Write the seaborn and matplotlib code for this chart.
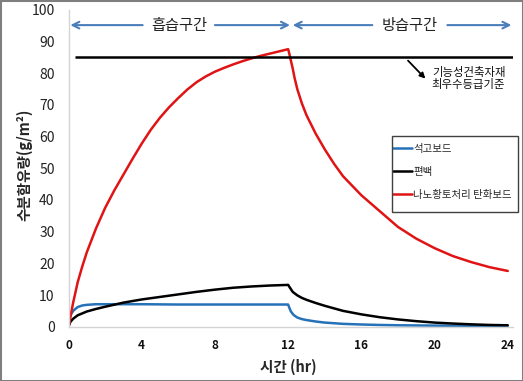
import numpy as np
import pandas as pd
import matplotlib
matplotlib.use("Agg")
import matplotlib.pyplot as plt
from matplotlib.patches import Rectangle
import seaborn as sns

# ---------------- data ----------------
series_names = ["석고보드", "편백", "나노황토처리 탄화보드"]

gypsum_t = [0, 0.1, 0.25, 0.5, 0.75, 1, 1.5, 2, 4, 6, 8, 10, 12,
            12.05, 12.15, 12.3, 12.5, 12.75, 13, 13.5, 14, 15, 16, 17, 18,
            20, 22, 24]
gypsum_v = [0, 3.5, 5.0, 6.2, 6.7, 6.9, 7.1, 7.1, 7.1, 7.0, 7.0, 7.0, 7.0,
            6.2, 4.8, 3.7, 2.9, 2.4, 2.1, 1.65, 1.3, 0.9, 0.7, 0.55, 0.45,
            0.35, 0.3, 0.3]

cypress_t = [0, 0.1, 0.25, 0.5, 1, 1.5, 2, 3, 4, 5, 6, 7, 8, 9, 10, 11, 12,
             12.1, 12.25, 12.5, 12.75, 13, 13.5, 14, 15, 16, 17, 18, 19, 20,
             21, 22, 23, 24]
cypress_v = [0, 1.5, 2.5, 3.6, 4.8, 5.6, 6.3, 7.6, 8.6, 9.4, 10.2, 11.0, 11.7,
             12.3, 12.7, 13.0, 13.2,
             12.3, 11.0, 9.9, 9.1, 8.5, 7.5, 6.6, 5.0, 3.9, 3.0, 2.3, 1.75,
             1.3, 1.0, 0.75, 0.55, 0.45]

nano_t = [0, 0.25, 0.5, 0.75, 1, 1.5, 2, 2.5, 3, 3.5, 4, 4.5, 5, 5.5, 6, 6.5,
          7, 7.5, 8, 8.5, 9, 9.5, 10, 10.5, 11, 11.5, 12,
          12.05, 12.15, 12.25, 12.35, 12.5, 12.75, 13, 13.5, 14, 14.5, 15, 16,
          17, 18, 19, 20, 21, 22, 23, 24]
nano_v = [0, 7.5, 14, 19, 23.5, 31, 37.5, 43, 48, 53, 57.8, 62.2, 66.0, 69.3,
          72.2, 74.9, 77.2, 79.0, 80.5, 81.7, 82.8, 83.8, 84.7, 85.5, 86.2,
          86.9, 87.6,
          86.5, 84.0, 81.5, 78.6, 75.0, 70.5, 66.8, 61.0, 56.0, 51.5, 47.5,
          41.5, 36.5, 31.5, 27.8, 24.8, 22.3, 20.4, 18.8, 17.6]

ref_level = 85
ref_span = [0.35, 24.3]
ref_label = "기능성건축자재\n최우수등급기준"

phase_labels = ["흡습구간", "방습구간"]
phase_centers = [6.05, 18.65]

x_ticks = [0, 4, 8, 12, 16, 20, 24]
y_ticks = list(range(0, 101, 10))

colors = {"석고보드": "#2672B8", "편백": "#000000",
          "나노황토처리 탄화보드": "#E01414"}

# ---------------- long-form table ----------------
df = pd.concat([
    pd.DataFrame({"t": gypsum_t, "v": gypsum_v, "series": series_names[0]}),
    pd.DataFrame({"t": cypress_t, "v": cypress_v, "series": series_names[1]}),
    pd.DataFrame({"t": nano_t, "v": nano_v, "series": series_names[2]}),
], ignore_index=True)

# ---------------- style ----------------
sns.set_theme(style="white")
plt.rcParams["font.family"] = ["Noto Sans CJK KR", "DejaVu Sans"]
plt.rcParams["axes.unicode_minus"] = False

fig = plt.figure(figsize=(5.23, 3.81), dpi=100)
ax = fig.add_axes([0.131, 0.1425, 0.85, 0.8315])

sns.lineplot(data=df, x="t", y="v", hue="series", hue_order=series_names,
             palette=colors, estimator=None, sort=False, linewidth=1.8,
             ax=ax)

# reference line
ax.hlines(ref_level, ref_span[0], ref_span[1], color="black", linewidth=1.8)

ax.set_xlim(0, 24.29)
ax.set_ylim(0, 100)
ax.set_xticks(x_ticks)
ax.set_yticks(y_ticks)
ax.set_xticklabels([str(v) for v in x_ticks], fontsize=8.5, fontweight="bold")
ax.set_yticklabels([str(v) for v in y_ticks], fontsize=10)
ax.tick_params(axis="x", length=0, pad=9, colors="#111111")
ax.tick_params(axis="y", length=0, pad=10, colors="#222222")

for s in ["top", "right"]:
    ax.spines[s].set_visible(False)
for s in ["left", "bottom"]:
    ax.spines[s].set_color("#D4D4D4")
    ax.spines[s].set_linewidth(1.0)

ax.set_xlabel("시간 (hr)", fontsize=10.5, fontweight="bold")
ax.set_ylabel("수분함유량(g/m²)", fontsize=10.5, fontweight="bold")
ax.xaxis.set_label_coords(0.494, -0.100)
ax.yaxis.set_label_coords(-0.082, 0.51)

# phase annotations
arrow_color = "#4A7EBB"
aprops = dict(arrowstyle="->", color=arrow_color, lw=1.5,
              shrinkA=0, shrinkB=0, mutation_scale=12)
y_ph = 95.2
ax.text(phase_centers[0], y_ph, phase_labels[0], ha="center", va="center",
        fontsize=11, color="#222222")
ax.text(phase_centers[1], y_ph, phase_labels[1], ha="center", va="center",
        fontsize=11, color="#222222")
ax.annotate("", xy=(0.1, y_ph), xytext=(4.05, y_ph), arrowprops=aprops,
            annotation_clip=False)
ax.annotate("", xy=(12.1, y_ph), xytext=(8.0, y_ph), arrowprops=aprops,
            annotation_clip=False)
ax.annotate("", xy=(12.25, y_ph), xytext=(16.6, y_ph), arrowprops=aprops,
            annotation_clip=False)
ax.annotate("", xy=(24.2, y_ph), xytext=(20.7, y_ph), arrowprops=aprops,
            annotation_clip=False)

# reference annotation
ax.annotate("", xy=(19.5, 78.3), xytext=(18.55, 84.0),
            arrowprops=dict(arrowstyle="-|>", color="black", lw=1.3,
                            shrinkA=0, shrinkB=0, mutation_scale=8))
ax.text(19.85, 78.3, ref_label, ha="left", va="center", fontsize=8.2,
        color="#111111", linespacing=1.05)

# legend (frame drawn separately so the handles sit at the box edge)
handles, labels = ax.get_legend_handles_labels()
leg = ax.legend(handles, labels, loc="upper left",
                bbox_to_anchor=(393 / 523, 1 - 144 / 381),
                bbox_transform=fig.transFigure, fontsize=7.5,
                frameon=False, borderpad=0, handlelength=1.8,
                handletextpad=0.12, labelspacing=1.25, borderaxespad=0)
for lh in leg.get_lines():
    lh.set_linewidth(1.8)
fig.patches.append(Rectangle((392 / 523, 1 - 212 / 381), 126 / 523, 76 / 381,
                             transform=fig.transFigure, fill=False,
                             edgecolor="#404040", linewidth=1.0, zorder=5))

# figure border
fig.patches.append(Rectangle((0, 0), 1, 1, transform=fig.transFigure,
                             fill=False, edgecolor="#7F7F7F", linewidth=2.2))

fig.savefig("out.png", dpi=100)
